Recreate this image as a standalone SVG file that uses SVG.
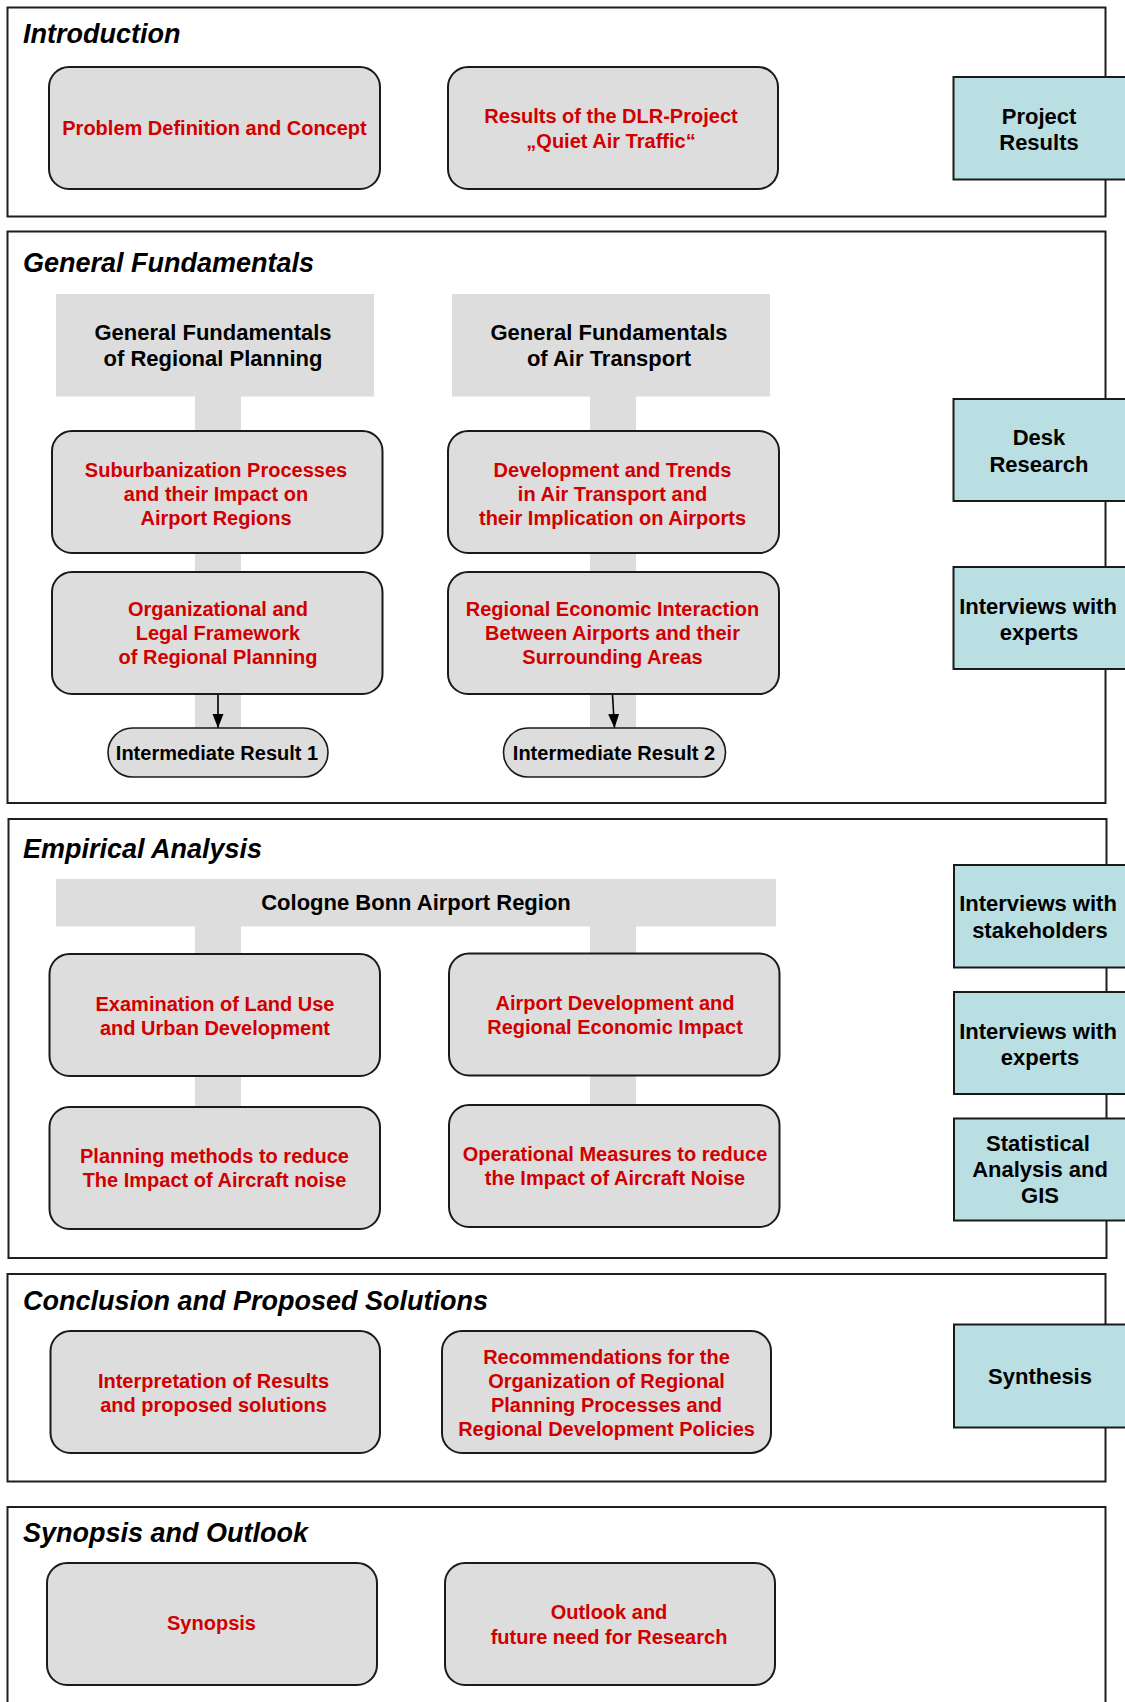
<svg xmlns="http://www.w3.org/2000/svg" width="1125" height="1702" viewBox="0 0 1125 1702">
<defs>
<style>
.bg{fill:#ffffff}
.frame{fill:none;stroke:#1e1e1e;stroke-width:2}
.title{font-family:"Liberation Sans",Arial,sans-serif;font-weight:bold;font-style:italic;font-size:27px;fill:#000}
.box{fill:#dddddd;stroke:#1a1a1a;stroke-width:2}
.hdr{fill:#dddddd}
.bar{fill:#dddddd}
.pill{fill:#dddddd;stroke:#1a1a1a;stroke-width:1.6}
.blue{fill:#b9dfe3;stroke:#1a1a1a;stroke-width:2}
.red{font-family:"Liberation Sans",Arial,sans-serif;font-weight:bold;font-size:20px;fill:#d00000;text-anchor:middle}
.blk{font-family:"Liberation Sans",Arial,sans-serif;font-weight:bold;font-size:22px;fill:#000;text-anchor:middle}
.blk20{font-family:"Liberation Sans",Arial,sans-serif;font-weight:bold;font-size:20px;fill:#000;text-anchor:middle}
.arrow{stroke:#000;stroke-width:1.6;fill:none}
</style>
<marker id="ah" markerUnits="userSpaceOnUse" markerWidth="16" markerHeight="13" refX="14" refY="5.5" orient="auto">
<path d="M0,0 L14,5.5 L0,11 z" fill="#000"/>
</marker>
</defs>
<rect class="bg" x="0" y="0" width="1125" height="1702"/>

<!-- Section frames -->
<g id="frames">
<rect class="frame" x="7.5" y="7.5" width="1098" height="209"/>
<rect class="frame" x="7.5" y="231.5" width="1098" height="571.5"/>
<rect class="frame" x="8.5" y="819" width="1098" height="439"/>
<rect class="frame" x="7.5" y="1274" width="1098" height="207.5"/>
<rect class="frame" x="7.5" y="1507" width="1098" height="210"/>
</g>

<!-- Section titles -->
<g id="titles">
<text class="title" x="23" y="43">Introduction</text>
<text class="title" x="23" y="272">General Fundamentals</text>
<text class="title" x="23" y="858">Empirical Analysis</text>
<text class="title" x="23" y="1310">Conclusion and Proposed Solutions</text>
<text class="title" x="23" y="1542">Synopsis and Outlook</text>
</g>

<!-- Connectors -->
<g id="connectors">
<rect class="bar" x="195" y="396" width="46" height="36"/>
<rect class="bar" x="590" y="396" width="46" height="36"/>
<rect class="bar" x="195" y="552" width="46" height="21"/>
<rect class="bar" x="590" y="552" width="46" height="21"/>
<rect class="bar" x="195" y="693" width="46" height="36"/>
<rect class="bar" x="590" y="693" width="46" height="36"/>
<rect class="bar" x="195" y="926" width="46" height="29"/>
<rect class="bar" x="590" y="926" width="46" height="29"/>
<rect class="bar" x="195" y="1075" width="46" height="33"/>
<rect class="bar" x="590" y="1074" width="46" height="33"/>
<line class="arrow" x1="218" y1="695" x2="218" y2="728" marker-end="url(#ah)"/>
<line class="arrow" x1="612.5" y1="695" x2="614.5" y2="728" marker-end="url(#ah)"/>
</g>

<!-- Introduction -->
<g id="n-problem">
<rect class="box" x="49" y="67" width="331" height="122" rx="20"/>
<text class="red" x="214.5" y="135">Problem Definition and Concept</text>
</g>
<g id="n-dlr">
<rect class="box" x="448" y="67" width="330" height="122" rx="20"/>
<text class="red" x="611" y="122.7">Results of the DLR-Project</text>
<text class="red" x="611" y="147.7">„Quiet Air Traffic“</text>
</g>
<g id="n-project-results">
<rect class="blue" x="953.5" y="77" width="185" height="102.5"/>
<text class="blk" x="1039" y="124">Project</text>
<text class="blk" x="1039" y="150">Results</text>
</g>

<!-- General Fundamentals -->
<g id="n-gf-regional">
<rect class="hdr" x="56" y="294" width="318" height="102.5"/>
<text class="blk" x="213" y="340">General Fundamentals</text>
<text class="blk" x="213" y="366">of Regional Planning</text>
</g>
<g id="n-gf-air">
<rect class="hdr" x="452" y="294" width="318" height="102.5"/>
<text class="blk" x="609" y="340">General Fundamentals</text>
<text class="blk" x="609" y="366">of Air Transport</text>
</g>
<g id="n-suburban">
<rect class="box" x="52" y="431" width="330.5" height="122" rx="20"/>
<text class="red" x="216" y="476.5">Suburbanization Processes</text>
<text class="red" x="216" y="500.5">and their Impact on</text>
<text class="red" x="216" y="524.5">Airport Regions</text>
</g>
<g id="n-trends">
<rect class="box" x="448" y="431" width="331" height="122" rx="20"/>
<text class="red" x="612.5" y="476.5">Development and Trends</text>
<text class="red" x="612.5" y="500.5">in Air Transport and</text>
<text class="red" x="612.5" y="524.5">their Implication on Airports</text>
</g>
<g id="n-legal">
<rect class="box" x="52" y="572" width="330.5" height="122" rx="20"/>
<text class="red" x="218" y="615.5">Organizational and</text>
<text class="red" x="218" y="639.5">Legal Framework</text>
<text class="red" x="218" y="663.5">of Regional Planning</text>
</g>
<g id="n-interaction">
<rect class="box" x="448" y="572" width="331" height="122" rx="20"/>
<text class="red" x="612.5" y="615.5">Regional Economic Interaction</text>
<text class="red" x="612.5" y="639.5">Between Airports and their</text>
<text class="red" x="612.5" y="663.5">Surrounding Areas</text>
</g>
<g id="n-ir1">
<rect class="pill" x="108" y="728" width="220" height="49" rx="24.5"/>
<text class="blk20" x="217" y="760">Intermediate Result 1</text>
</g>
<g id="n-ir2">
<rect class="pill" x="503.5" y="728" width="222" height="49" rx="24.5"/>
<text class="blk20" x="614" y="760">Intermediate Result 2</text>
</g>
<g id="n-desk">
<rect class="blue" x="953.5" y="399" width="185" height="102"/>
<text class="blk" x="1039" y="445">Desk</text>
<text class="blk" x="1039" y="471.5">Research</text>
</g>
<g id="n-experts1">
<rect class="blue" x="953.5" y="567" width="185" height="102"/>
<text class="blk" x="1038" y="613.5">Interviews with</text>
<text class="blk" x="1039" y="639.5">experts</text>
</g>

<!-- Empirical Analysis -->
<g id="n-cologne">
<rect class="hdr" x="56" y="879" width="720" height="47.5"/>
<text class="blk" x="416" y="910">Cologne Bonn Airport Region</text>
</g>
<g id="n-landuse">
<rect class="box" x="49.5" y="954" width="330.5" height="122" rx="20"/>
<text class="red" x="215" y="1011">Examination of Land Use</text>
<text class="red" x="215" y="1035">and Urban Development</text>
</g>
<g id="n-airportdev">
<rect class="box" x="449" y="953.5" width="330.5" height="122" rx="20"/>
<text class="red" x="615" y="1010">Airport Development and</text>
<text class="red" x="615" y="1034">Regional Economic Impact</text>
</g>
<g id="n-planning">
<rect class="box" x="49.5" y="1107" width="330.5" height="122" rx="20"/>
<text class="red" x="214.5" y="1163">Planning methods to reduce</text>
<text class="red" x="214.5" y="1187">The Impact of Aircraft noise</text>
</g>
<g id="n-operational">
<rect class="box" x="449" y="1105" width="330.5" height="122" rx="20"/>
<text class="red" x="615" y="1161">Operational Measures to reduce</text>
<text class="red" x="615" y="1185">the Impact of Aircraft Noise</text>
</g>
<g id="n-stakeholders">
<rect class="blue" x="954" y="865" width="185" height="102.5"/>
<text class="blk" x="1038" y="911">Interviews with</text>
<text class="blk" x="1040" y="937.5">stakeholders</text>
</g>
<g id="n-experts2">
<rect class="blue" x="954" y="992" width="185" height="102"/>
<text class="blk" x="1038" y="1038.5">Interviews with</text>
<text class="blk" x="1040" y="1065">experts</text>
</g>
<g id="n-statistical">
<rect class="blue" x="954" y="1118.5" width="185" height="102"/>
<text class="blk" x="1038" y="1151">Statistical</text>
<text class="blk" x="1040" y="1177">Analysis and</text>
<text class="blk" x="1040" y="1203">GIS</text>
</g>

<!-- Conclusion and Proposed Solutions -->
<g id="n-interpretation">
<rect class="box" x="50.5" y="1331" width="329.5" height="122" rx="20"/>
<text class="red" x="213.5" y="1388">Interpretation of Results</text>
<text class="red" x="213.5" y="1412">and proposed solutions</text>
</g>
<g id="n-recommendations">
<rect class="box" x="442" y="1331" width="329" height="122" rx="20"/>
<text class="red" x="606.5" y="1363.5">Recommendations for the</text>
<text class="red" x="606.5" y="1387.5">Organization of Regional</text>
<text class="red" x="606.5" y="1411.5">Planning Processes and</text>
<text class="red" x="606.5" y="1435.5">Regional Development Policies</text>
</g>
<g id="n-synthesis">
<rect class="blue" x="954" y="1324.5" width="185" height="103"/>
<text class="blk" x="1040" y="1384">Synthesis</text>
</g>

<!-- Synopsis and Outlook -->
<g id="n-synopsis">
<rect class="box" x="47" y="1563" width="330" height="122" rx="20"/>
<text class="red" x="211.5" y="1630">Synopsis</text>
</g>
<g id="n-outlook">
<rect class="box" x="445" y="1563" width="330" height="122" rx="20"/>
<text class="red" x="609" y="1619">Outlook and</text>
<text class="red" x="609" y="1643.5">future need for Research</text>
</g>
</svg>
